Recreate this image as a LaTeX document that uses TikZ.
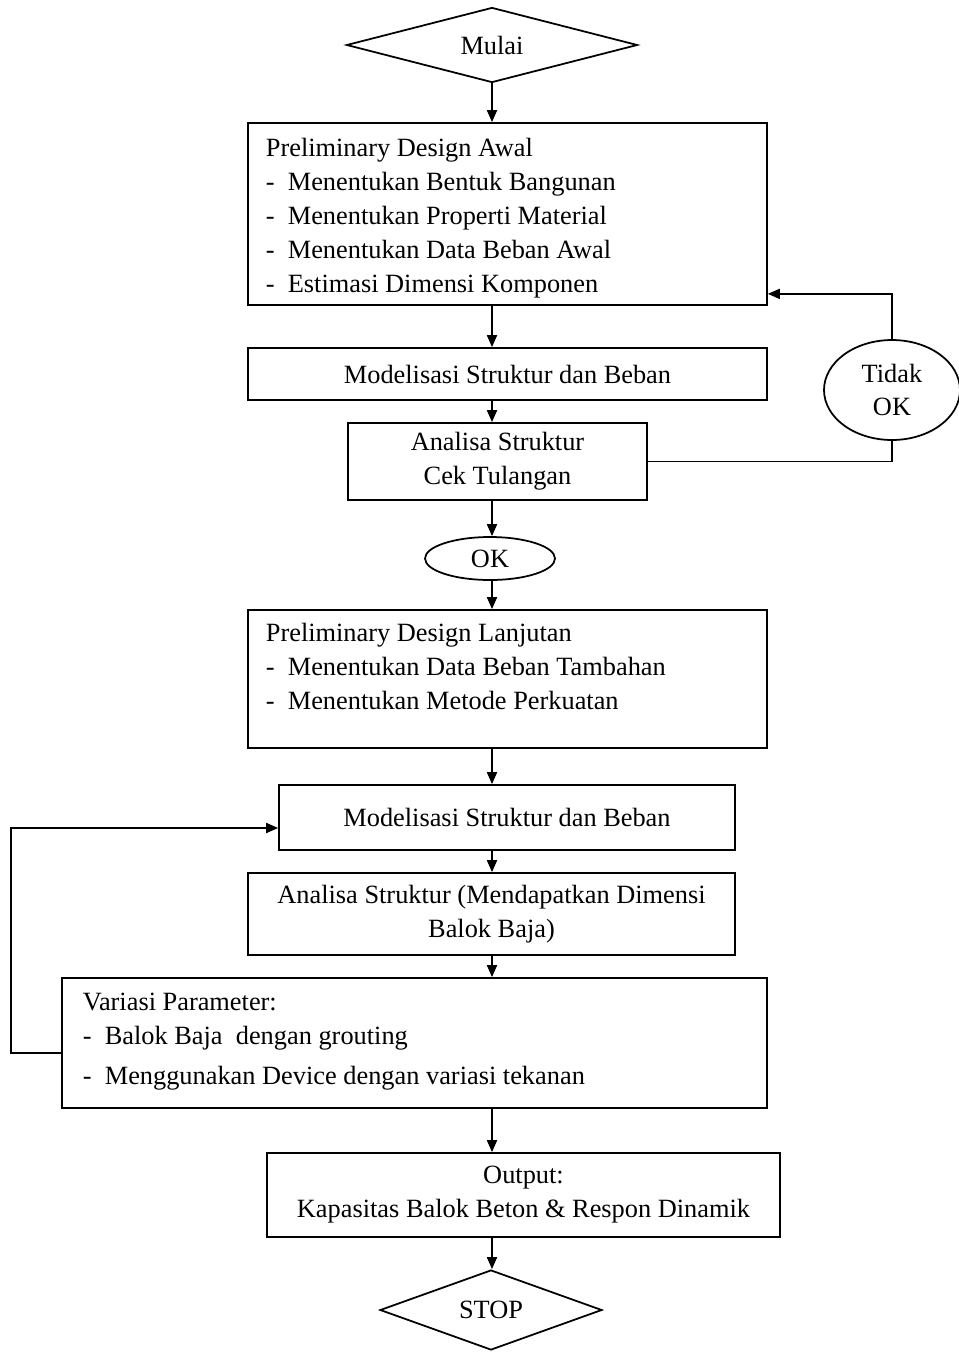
\documentclass[tikz,border=0pt]{standalone}
\usepackage{fontspec}
\setmainfont{Liberation Serif}
\usetikzlibrary{shapes.geometric,arrows.meta}
\begin{document}
\begin{tikzpicture}[x=0.02cm, y=-0.02cm, line width=1pt, font=\fontsize{15}{19.3}\selectfont,
  box/.style={draw, rectangle, inner sep=0pt, align=center},
  lbl/.style={inner sep=0pt, align=left, anchor=base west},
  arr/.style={-{Triangle[length=0.24cm, width=0.2cm]}}]
\useasboundingbox (0,0) rectangle (958,1353);
\node[diamond, draw, aspect=3.88, minimum width=5.82cm, minimum height=1.5cm, inner sep=0pt] (mulai) at (492,45) {Mulai};
\node[box, minimum width=10.38cm, minimum height=3.64cm] (pda) at (507.5,214) {};
\node[lbl] (pdatxt) at (265,292) {Preliminary Design Awal\\-~~Menentukan Bentuk Bangunan\\-~~Menentukan Properti Material\\-~~Menentukan Data Beban Awal\\-~~Estimasi Dimensi Komponen};
\draw[arr] (mulai.south) -- (mulai.south |- pda.north);
\node[box, minimum width=10.38cm, minimum height=1.04cm] (msa) at (507.5,374) {Modelisasi Struktur dan Beban};
\draw[arr] (pda.south -| mulai) -- (msa.north -| mulai);
\node[box, minimum width=5.98cm, minimum height=1.54cm] (asa) at (497.5,461.5) {Analisa Struktur\\Cek Tulangan};
\draw[arr] (msa.south -| mulai) -- (asa.north -| mulai);
\node[ellipse, draw, minimum width=2.72cm, minimum height=2cm, inner sep=0pt, align=center] (tdk) at (892,390) {Tidak\\OK};
\draw (asa.east) -- (asa.east -| tdk) -- (tdk.south);
\draw[arr] (tdk.north) |- ([yshift=0.24cm]pda.south east);
\node[ellipse, draw, minimum width=2.6cm, minimum height=0.86cm, inner sep=0pt] (ok) at (490,558.5) {OK};
\draw[arr] (asa.south -| mulai) -- (ok.north -| mulai);
\node[box, minimum width=10.38cm, minimum height=2.76cm] (pdl) at (507.5,679) {};
\node[lbl] (pdltxt) at (265,709) {Preliminary Design Lanjutan\\-~~Menentukan Data Beban Tambahan\\-~~Menentukan Metode Perkuatan};
\draw[arr] (ok.south -| mulai) -- (pdl.north -| mulai);
\node[box, minimum width=9.12cm, minimum height=1.3cm] (msb) at (507,817.5) {Modelisasi Struktur dan Beban};
\draw[arr] (pdl.south -| mulai) -- (msb.north -| mulai);
\node[box, minimum width=9.74cm, minimum height=1.64cm] (asb) at (491.5,914) {Analisa Struktur (Mendapatkan Dimensi\\Balok Baja)};
\draw[arr] (msb.south -| mulai) -- (asb.north -| mulai);
\node[box, minimum width=14.1cm, minimum height=2.6cm] (vp) at (414.5,1043) {};
\node[lbl] (vptxt) at (82,1084) {Variasi Parameter:\\-~~Balok Baja~ dengan grouting\\[3pt]-~~Menggunakan Device dengan variasi tekanan};
\draw[arr] (asb.south -| mulai) -- (vp.north -| mulai);
\draw[arr] ([yshift=-0.2cm]vp.west) -- ++(-50,0) |- ([yshift=-0.21cm]msb.west);
\node[box, minimum width=10.26cm, minimum height=1.68cm] (out) at (523.5,1195) {Output:\\Kapasitas Balok Beton \& Respon Dinamik};
\draw[arr] (vp.south -| mulai) -- (out.north -| mulai);
\node[diamond, draw, aspect=2.78, minimum width=4.44cm, minimum height=1.6cm, inner sep=0pt] (stop) at (491,1310) {STOP};
\draw[arr] (out.south -| mulai) -- (stop.north -| mulai);
\end{tikzpicture}
\end{document}
